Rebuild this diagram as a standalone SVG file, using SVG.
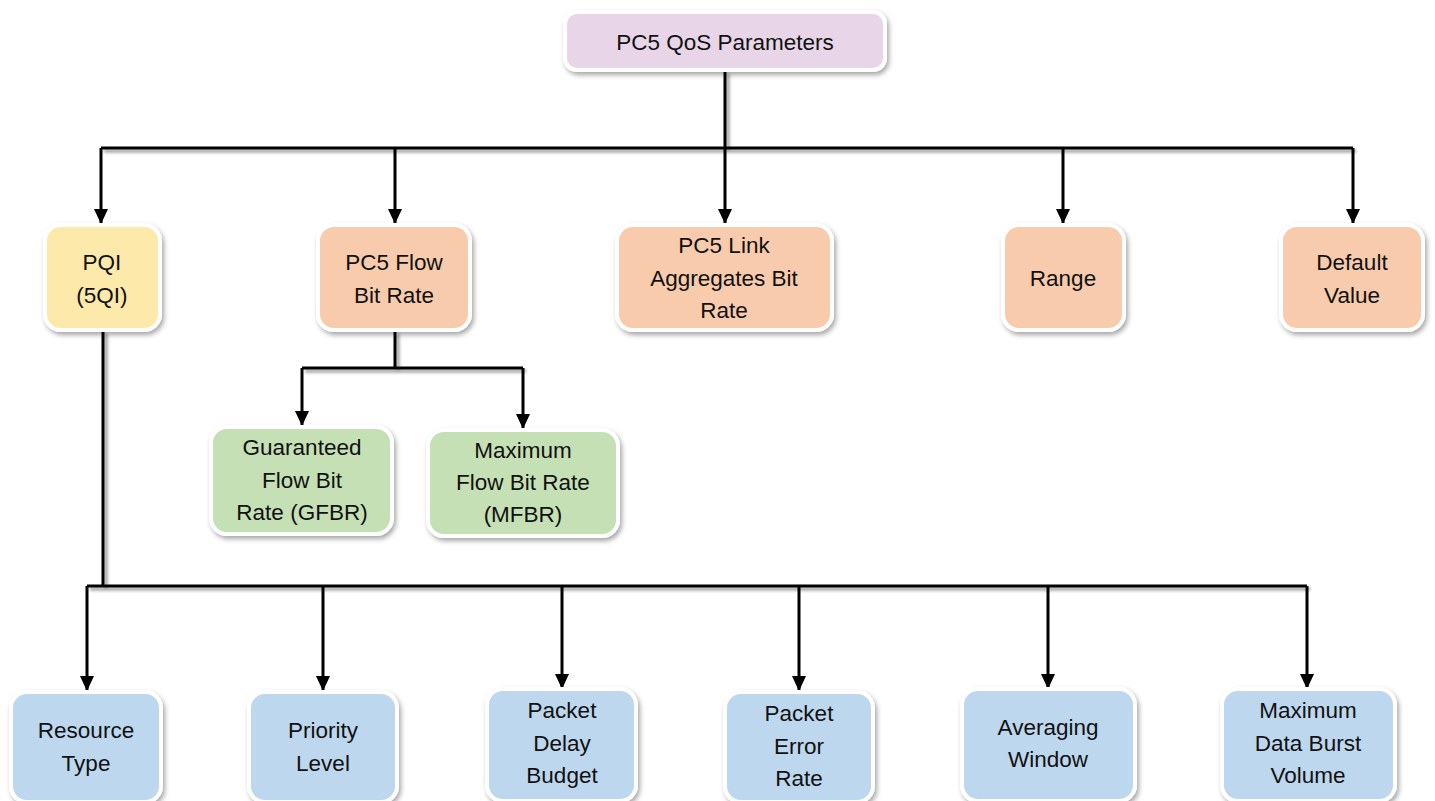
<svg xmlns="http://www.w3.org/2000/svg" width="1435" height="801" viewBox="0 0 1435 801">
<defs>
<filter id="sh" x="-10%" y="-10%" width="130%" height="130%">
<feDropShadow dx="2" dy="3" stdDeviation="2.5" flood-color="#000" flood-opacity="0.35"/>
</filter>
<filter id="lsh" x="-50%" y="-50%" width="200%" height="200%">
<feDropShadow dx="3" dy="3" stdDeviation="1.5" flood-color="#000" flood-opacity="0.4"/>
</filter>
<marker id="ah" markerWidth="15" markerHeight="14" viewBox="0 0 15 14" refX="14" refY="7" orient="auto" markerUnits="userSpaceOnUse">
<path d="M0,0 L15,7 L0,14 Z" fill="#000"/>
</marker>
</defs>
<style>
.box{stroke:#fff;stroke-width:4;filter:url(#sh)}
.pur{fill:#e8d6e8}.yel{fill:#fde9a9}.ora{fill:#f8cbad}.grn{fill:#c5e0b4}.blu{fill:#bdd7ee}
text{font-family:"Liberation Sans",Arial,sans-serif;font-size:22.5px;fill:#111;text-anchor:middle}
.c{fill:none;stroke:#000;stroke-width:3;filter:url(#lsh)}
.a{fill:none;stroke:#000;stroke-width:3;marker-end:url(#ah)}
</style>
<rect width="1435" height="801" fill="#fff"/>
<g id="connectors">
<path class="c" d="M725,71 V148 M101,148 H1353"/>
<path class="a" d="M101,148 V223"/>
<path class="a" d="M395,148 V223"/>
<path class="a" d="M725,148 V223"/>
<path class="a" d="M1063,148 V223"/>
<path class="a" d="M1353,148 V223"/>
<path class="c" d="M395,331 V368 M302,368 H523"/>
<path class="a" d="M302,368 V425"/>
<path class="a" d="M523,368 V428"/>
<path class="c" d="M103,331 V586 M87,586 H1307"/>
<path class="a" d="M87,586 V690"/>
<path class="a" d="M323,586 V690"/>
<path class="a" d="M562,586 V688"/>
<path class="a" d="M799,586 V690"/>
<path class="a" d="M1048,586 V688"/>
<path class="a" d="M1307,586 V688"/>
</g>
<g id="n-root"><rect class="box pur" x="565" y="12" width="320" height="58" rx="12"/><text x="725" y="50">PC5 QoS Parameters</text></g>
<g id="n-pqi"><rect class="box yel" x="45" y="225" width="115" height="105" rx="16"/><text x="102" y="270">PQI</text><text x="102" y="303">(5QI)</text></g>
<g id="n-flow"><rect class="box ora" x="318" y="225" width="152" height="105" rx="16"/><text x="394" y="270">PC5 Flow</text><text x="394" y="303">Bit Rate</text></g>
<g id="n-link"><rect class="box ora" x="617" y="225" width="215" height="105" rx="16"/><text x="724" y="253">PC5 Link</text><text x="724" y="286">Aggregates Bit</text><text x="724" y="318">Rate</text></g>
<g id="n-range"><rect class="box ora" x="1003" y="225" width="121" height="105" rx="16"/><text x="1063" y="286">Range</text></g>
<g id="n-default"><rect class="box ora" x="1281" y="225" width="142" height="105" rx="16"/><text x="1352" y="270">Default</text><text x="1352" y="303">Value</text></g>
<g id="n-gfbr"><rect class="box grn" x="211" y="427" width="181" height="107" rx="16"/><text x="302" y="455">Guaranteed</text><text x="302" y="488">Flow Bit</text><text x="302" y="520">Rate (GFBR)</text></g>
<g id="n-mfbr"><rect class="box grn" x="428" y="430" width="190" height="106" rx="16"/><text x="523" y="458">Maximum</text><text x="523" y="490">Flow Bit Rate</text><text x="523" y="522">(MFBR)</text></g>
<g id="n-res"><rect class="box blu" x="11" y="692" width="150" height="110" rx="16"/><text x="86" y="738">Resource</text><text x="86" y="771">Type</text></g>
<g id="n-pri"><rect class="box blu" x="249" y="692" width="148" height="110" rx="16"/><text x="323" y="738">Priority</text><text x="323" y="771">Level</text></g>
<g id="n-pdb"><rect class="box blu" x="487" y="689" width="149" height="112" rx="16"/><text x="562" y="718">Packet</text><text x="562" y="751">Delay</text><text x="562" y="783">Budget</text></g>
<g id="n-per"><rect class="box blu" x="725" y="692" width="148" height="110" rx="16"/><text x="799" y="721">Packet</text><text x="799" y="754">Error</text><text x="799" y="786">Rate</text></g>
<g id="n-avg"><rect class="box blu" x="962" y="689" width="173" height="112" rx="16"/><text x="1048" y="735">Averaging</text><text x="1048" y="767">Window</text></g>
<g id="n-mdbv"><rect class="box blu" x="1222" y="689" width="173" height="112" rx="16"/><text x="1308" y="718">Maximum</text><text x="1308" y="751">Data Burst</text><text x="1308" y="783">Volume</text></g>
</svg>
